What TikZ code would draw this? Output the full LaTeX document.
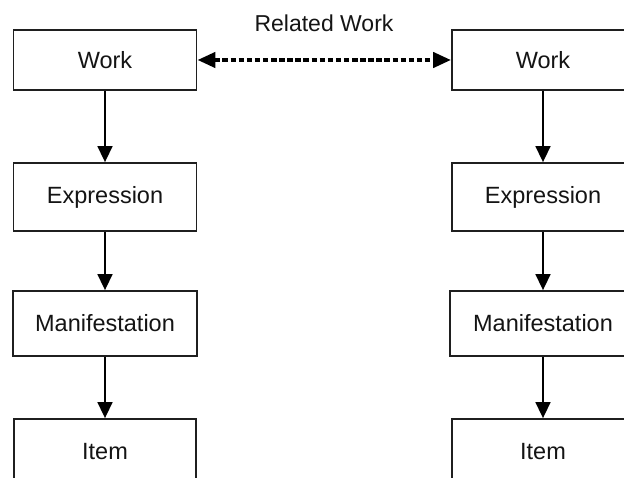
\documentclass[tikz,border=0pt]{standalone}
\usepackage{fontspec}
\setmainfont{Liberation Sans}
\usetikzlibrary{arrows.meta}
\begin{document}
\begin{tikzpicture}[x=1pt,y=-1pt,
  frbrbox/.style={draw=black!88, line width=1.8pt, fill=white, minimum width=183pt, inner sep=0pt,
    font=\fontsize{23.5}{28}\selectfont, text=black!92},
  downarrow/.style={line width=1.6pt, -{Triangle[length=16pt,width=15pt]}},
  relarrow/.style={line width=4.2pt, dash pattern=on 5.5pt off 2.6pt,
    {Triangle[length=18pt,width=15pt]}-{Triangle[length=18pt,width=15pt]}}]
\useasboundingbox (0,0) rectangle (624,478);
\clip (0,0) rectangle (624,478);
% left column
\node[frbrbox, minimum height=60pt] (lw) at (105,60) {Work};
\node[frbrbox, minimum height=68pt] (le) at (105,197) {Expression};
\node[frbrbox, minimum height=65pt, minimum width=184pt] (lm) at (105,323.5) {Manifestation};
\node[frbrbox, minimum height=65pt, minimum width=182pt] (li) at (105,451.5) {Item};
% right column
\node[frbrbox, minimum height=60pt, minimum width=182pt] (rw) at (543,60) {Work};
\node[frbrbox, minimum height=68pt, minimum width=182pt] (re) at (543,197) {Expression};
\node[frbrbox, minimum height=65pt, minimum width=186pt] (rm) at (543,323.5) {Manifestation};
\node[frbrbox, minimum height=65pt, minimum width=182pt] (ri) at (543,451.5) {Item};
% vertical arrows
\draw[downarrow] (lw.south) -- (le.north);
\draw[downarrow] (le.south) -- (lm.north);
\draw[downarrow] (lm.south) -- (li.north);
\draw[downarrow] (rw.south) -- (re.north);
\draw[downarrow] (re.south) -- (rm.north);
\draw[downarrow] (rm.south) -- (ri.north);
% related work
\draw[relarrow] (lw.east) -- (rw.west);
\node[font=\fontsize{23}{28}\selectfont, text=black!92] (rel) at (324,23) {Related Work};
\end{tikzpicture}
\end{document}
